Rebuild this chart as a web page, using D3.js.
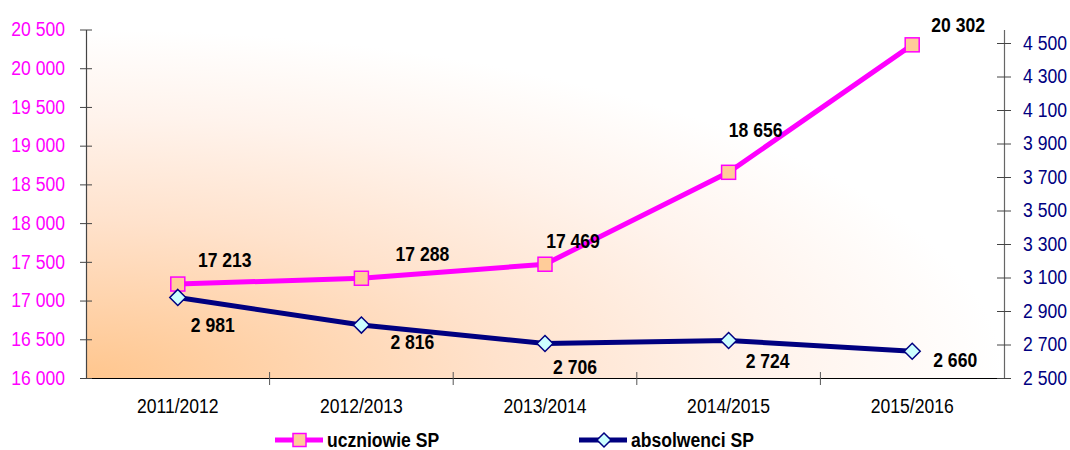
<!DOCTYPE html>
<meta charset="utf-8">
<head>
<style>
body { margin:0; background:#fff; }
text { font-family: Arial, "Liberation Sans", sans-serif; }
</style>
</head>
<body>
<script src="https://cdn.jsdelivr.net/npm/d3@7"></script>
<script>

// data
var years = ["2011/2012", "2012/2013", "2013/2014", "2014/2015", "2015/2016"];
var uczniowie = [17213, 17288, 17469, 18656, 20302];
var absolwenci = [2981, 2816, 2706, 2724, 2660];
var leftTicks = [16000, 16500, 17000, 17500, 18000, 18500, 19000, 19500, 20000, 20500];
var rightTicks = [2500, 2700, 2900, 3100, 3300, 3500, 3700, 3900, 4100, 4300, 4500];

// label offsets (dx, dy) from each point, as placed in the original
var offU = [[47,-24],[61,-24],[28,-23],[27,-42],[46,-20]];
var offA = [[35,28],[51,17],[30,24],[39,21],[43,9]];

var W = 1070, H = 450;
var pLeft = 86, pRight = 1004, pTop = 29.5, pBottom = 378;
var FS = 19.5;

var svg = d3.select("body").append("svg")
    .attr("width", W).attr("height", H);

var fmt = function(v){ return d3.format(",")(v).replace(/,/g, " "); };

// background gradient (from bottom-left corner)
var defs = svg.append("defs");
var grad = defs.append("radialGradient")
    .attr("id", "bg")
    .attr("cx", 0).attr("cy", 1).attr("r", 1)
    .attr("fx", 0).attr("fy", 1);
grad.append("stop").attr("offset", "0%").attr("stop-color", "#ffc68e");
grad.append("stop").attr("offset", "45%").attr("stop-color", "#ffe2cc");
grad.append("stop").attr("offset", "75%").attr("stop-color", "#fff3ec");
grad.append("stop").attr("offset", "100%").attr("stop-color", "#ffffff");

svg.append("rect")
    .attr("x", pLeft).attr("y", pTop)
    .attr("width", pRight-pLeft).attr("height", pBottom-pTop)
    .attr("fill", "url(#bg)");

var x = d3.scaleBand().domain(years).range([pLeft, pRight]);
var yL = d3.scaleLinear().domain([16000, 20500]).range([pBottom, pTop]);
var yR = d3.scaleLinear().domain([2500, 2500 + 2000*(pBottom-pTop)/(pBottom-43)]).range([pBottom, pTop]);

// axes
var gx = svg.append("g").attr("transform", "translate(0," + pBottom + ")")
    .call(d3.axisBottom(x).tickSize(0).tickPadding(21));
gx.select(".domain").attr("stroke", "#000").attr("stroke-width", 1.2);
gx.selectAll("text").attr("fill", "#000").attr("font-size", FS);
// band boundary ticks (crossing)
svg.append("g").selectAll("line")
    .data(years.slice(1))
    .enter().append("line")
    .attr("x1", function(d){ return x(d); }).attr("x2", function(d){ return x(d); })
    .attr("y1", pBottom - 6).attr("y2", pBottom + 7)
    .attr("stroke", "#555");

var gl = svg.append("g").attr("transform", "translate(" + pLeft + ",0)")
    .call(d3.axisLeft(yL).tickValues(leftTicks).tickFormat(fmt).tickSizeInner(6).tickSizeOuter(0).tickPadding(15));
gl.select(".domain").attr("stroke", "#444").attr("stroke-width", 1.2);
gl.selectAll(".tick line").attr("x2", 6).attr("x1", -6).attr("stroke", "#444");
gl.selectAll("text").attr("fill", "#ff00ff").attr("font-size", FS);

var gr = svg.append("g").attr("transform", "translate(" + pRight + ",0)")
    .call(d3.axisRight(yR).tickValues(rightTicks).tickFormat(fmt).tickSizeInner(7).tickSizeOuter(0).tickPadding(12));
gr.select(".domain").attr("stroke", "#666").attr("stroke-width", 1.2);
gr.selectAll(".tick line").attr("x1", -7).attr("x2", 7).attr("stroke", "#444");
gr.selectAll("text").attr("fill", "#000080").attr("font-size", FS);

// lines
var cx = function(i){ return x(years[i]) + x.bandwidth()/2; };

var lineU = d3.line().x(function(d,i){ return cx(i); }).y(function(d){ return yL(d); });
var lineA = d3.line().x(function(d,i){ return cx(i); }).y(function(d){ return yR(d); });

svg.append("path").attr("d", lineU(uczniowie))
    .attr("fill", "none").attr("stroke", "#ff00ff").attr("stroke-width", 5);
svg.append("path").attr("d", lineA(absolwenci))
    .attr("fill", "none").attr("stroke", "#000080").attr("stroke-width", 5);

svg.append("g").selectAll("rect")
    .data(uczniowie).enter().append("rect")
    .attr("x", function(d,i){ return cx(i) - 7; })
    .attr("y", function(d){ return yL(d) - 7; })
    .attr("width", 14).attr("height", 14)
    .attr("fill", "#ffcc99").attr("stroke", "#ff00ff").attr("stroke-width", 1.5);

var diamond = "M0,-8L8,0L0,8L-8,0Z";
svg.append("g").selectAll("path")
    .data(absolwenci).enter().append("path")
    .attr("d", diamond)
    .attr("transform", function(d,i){ return "translate(" + cx(i) + "," + yR(d) + ")"; })
    .attr("fill", "#ccffff").attr("stroke", "#000080").attr("stroke-width", 1.5);

// data labels
svg.append("g").selectAll("text")
    .data(uczniowie).enter().append("text")
    .attr("x", function(d,i){ return cx(i) + offU[i][0]; })
    .attr("y", function(d,i){ return yL(d) + offU[i][1]; })
    .attr("text-anchor", "middle").attr("dy", "0.35em")
    .attr("font-size", FS).attr("font-weight", "bold")
    .text(fmt);

svg.append("g").selectAll("text")
    .data(absolwenci).enter().append("text")
    .attr("x", function(d,i){ return cx(i) + offA[i][0]; })
    .attr("y", function(d,i){ return yR(d) + offA[i][1]; })
    .attr("text-anchor", "middle").attr("dy", "0.35em")
    .attr("font-size", FS).attr("font-weight", "bold")
    .text(fmt);

// legend
var leg = svg.append("g");
leg.append("line").attr("x1", 275).attr("x2", 323).attr("y1", 440).attr("y2", 440)
    .attr("stroke", "#ff00ff").attr("stroke-width", 5);
leg.append("rect").attr("x", 293).attr("y", 433.5).attr("width", 13).attr("height", 13)
    .attr("fill", "#ffcc99").attr("stroke", "#ff00ff").attr("stroke-width", 1.5);
leg.append("text").attr("x", 327).attr("y", 440).attr("dy", "0.35em")
    .attr("font-size", FS).attr("font-weight", "bold").text("uczniowie SP");

leg.append("line").attr("x1", 579).attr("x2", 627).attr("y1", 440).attr("y2", 440)
    .attr("stroke", "#000080").attr("stroke-width", 5);
leg.append("path").attr("d", "M0,-7L7,0L0,7L-7,0Z")
    .attr("transform", "translate(604,440)")
    .attr("fill", "#ccffff").attr("stroke", "#000080").attr("stroke-width", 1.5);
leg.append("text").attr("x", 631).attr("y", 440).attr("dy", "0.35em")
    .attr("font-size", FS).attr("font-weight", "bold").text("absolwenci SP");

// the original text is set slightly condensed
svg.selectAll("text").each(function(){
  var w = this.getComputedTextLength();
  d3.select(this).attr("textLength", w * 0.9).attr("lengthAdjust", "spacingAndGlyphs");
});

</script>
</body>
